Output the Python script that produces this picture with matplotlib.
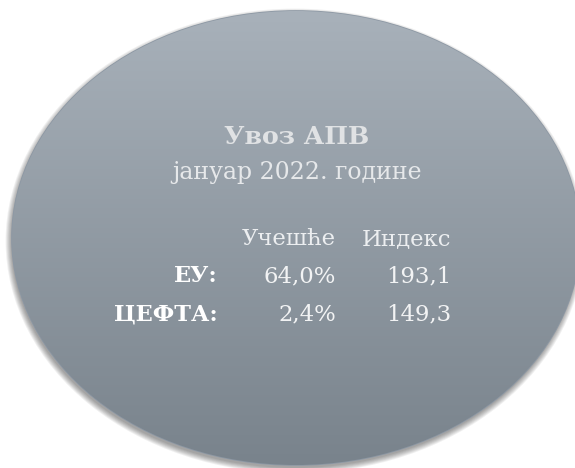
import numpy as np
import matplotlib.pyplot as plt
from matplotlib.patches import Ellipse

plt.rcParams['font.family'] = ['DejaVu Serif']

# text content
title = 'Увоз АПВ'
subtitle = 'јануар 2022. године'
columns = ['Учешће', 'Индекс']
regions = ['ЕУ:', 'ЦЕФТА:']
shares = ['64,0%', '2,4%']
indices = ['193,1', '149,3']

fig = plt.figure(figsize=(5.75, 4.68), dpi=100)
ax = fig.add_axes([0, 0, 1, 1])
ax.set_xlim(0, 575)
ax.set_ylim(468, 0)
ax.axis('off')

cx, cy, w, h = 296, 238, 568, 454

# soft shadow under the oval
for i in range(7):
    ax.add_patch(Ellipse((cx - 1, cy + 3), w + i * 1.8, h + i * 1.8,
                         color='black', alpha=0.06, lw=0))

# vertical gradient fill clipped to the oval
top = np.array([168, 177, 186]) / 255
bot = np.array([121, 131, 140]) / 255
t = np.linspace(0, 1, 256)[:, None, None]
grad = top * (1 - t) + bot * t
oval = Ellipse((cx, cy), w, h, facecolor='none', edgecolor='#8d98a4', lw=1.2)
ax.add_patch(oval)
im = ax.imshow(grad, extent=(cx - w / 2, cx + w / 2, cy + h / 2, cy - h / 2),
               origin='upper', aspect='auto', zorder=1)
im.set_clip_path(oval)
ax.set_xlim(0, 575)
ax.set_ylim(468, 0)

ax.text(297, 144, title, ha='center', va='baseline', fontsize=18.2,
        fontweight='bold', color='#e0e2e4', zorder=3)
ax.text(297, 179, subtitle, ha='center', va='baseline', fontsize=17,
        color='#e6e8ea', zorder=3)

ax.text(336, 245, columns[0], ha='right', va='baseline', fontsize=16.4,
        color='#eceef0', zorder=3)
ax.text(451, 245, columns[1], ha='right', va='baseline', fontsize=16.4,
        color='#eceef0', zorder=3)

for i, (r, s, x) in enumerate(zip(regions, shares, indices)):
    y = 282 + i * 38
    ax.text(218, y, r, ha='right', va='baseline', fontsize=16.2,
            fontweight='bold', color='white', zorder=3)
    ax.text(336, y, s, ha='right', va='baseline', fontsize=16.4,
            color='#f2f3f4', zorder=3)
    ax.text(451, y, x, ha='right', va='baseline', fontsize=16.4,
            color='#f2f3f4', zorder=3)

fig.savefig('out.png', dpi=100)
